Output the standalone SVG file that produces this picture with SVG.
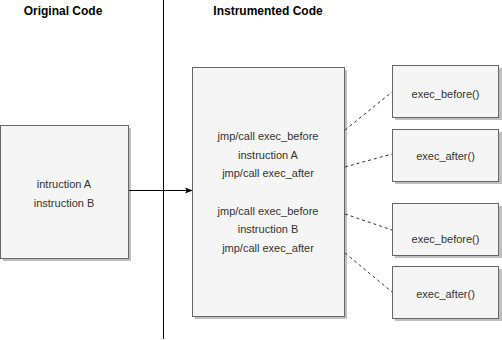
<svg xmlns="http://www.w3.org/2000/svg" width="502" height="340" viewBox="0 0 502 340">
<style>
.box{fill:#f5f5f5;stroke:#666666;stroke-width:1}
.shadow{fill:#000000;opacity:0.25}
.t{font-family:"Liberation Sans",Arial,sans-serif;font-size:11px;fill:#333333;text-anchor:middle;dominant-baseline:central}
.title{font-family:"Liberation Sans",Arial,sans-serif;font-size:12px;font-weight:bold;fill:#000000;text-anchor:middle;dominant-baseline:central}
.dash{stroke:#333333;stroke-width:1;stroke-dasharray:3 3;fill:none}
</style>
<defs>
<marker id="arr" viewBox="0 0 10 10" refX="9" refY="5" markerWidth="8" markerHeight="8" markerUnits="userSpaceOnUse" orient="auto">
<path d="M0,1 L10,5 L0,9 L2.5,5 Z" fill="#000000"/>
</marker>
</defs>
<rect width="502" height="340" fill="#ffffff"/>
<g id="titles">
<text class="title" x="63" y="11">Original Code</text>
<text class="title" x="268" y="11">Instrumented Code</text>
</g>
<g id="divider">
<line x1="163.5" y1="0" x2="163.5" y2="339" stroke="#000000" stroke-width="1"/>
</g>
<g id="original">
<rect class="shadow" x="3" y="128" width="128" height="133"/>
<rect class="box" x="0.5" y="125.5" width="128" height="133"/>
<text class="t" x="64" y="184">intruction A</text>
<text class="t" x="64" y="202.5">instruction B</text>
</g>
<g id="instrumented">
<rect class="shadow" x="195" y="70" width="152" height="249"/>
<rect class="box" x="192.5" y="67.5" width="152" height="249"/>
<text class="t" x="268" y="136">jmp/call exec_before</text>
<text class="t" x="268" y="155">instruction A</text>
<text class="t" x="268" y="173">jmp/call exec_after</text>
<text class="t" x="268" y="211">jmp/call exec_before</text>
<text class="t" x="268" y="229">instruction B</text>
<text class="t" x="268" y="248">jmp/call exec_after</text>
</g>
<g id="before1">
<rect class="shadow" x="395" y="68" width="107" height="52"/>
<rect class="box" x="392.5" y="65.5" width="106" height="52"/>
<text class="t" x="445.5" y="94">exec_before()</text>
</g>
<g id="after1">
<rect class="shadow" x="395" y="132" width="107" height="52"/>
<rect class="box" x="392.5" y="129.5" width="106" height="52"/>
<text class="t" x="445.5" y="156">exec_after()</text>
</g>
<g id="before2">
<rect class="shadow" x="395" y="206" width="107" height="52"/>
<rect class="box" x="392.5" y="203.5" width="106" height="52"/>
<text class="t" x="445.5" y="239">exec_before()</text>
</g>
<g id="after2">
<rect class="shadow" x="395" y="269" width="107" height="52"/>
<rect class="box" x="392.5" y="266.5" width="106" height="52"/>
<text class="t" x="445.5" y="294">exec_after()</text>
</g>
<g id="connectors">
<line x1="129" y1="190.5" x2="192" y2="190.5" stroke="#000000" stroke-width="1" marker-end="url(#arr)"/>
<line class="dash" x1="345" y1="130" x2="392" y2="92"/>
<line class="dash" x1="345" y1="167" x2="392" y2="154"/>
<line class="dash" x1="345" y1="214" x2="392" y2="230"/>
<line class="dash" x1="345" y1="253" x2="392" y2="292"/>
</g>
</svg>
